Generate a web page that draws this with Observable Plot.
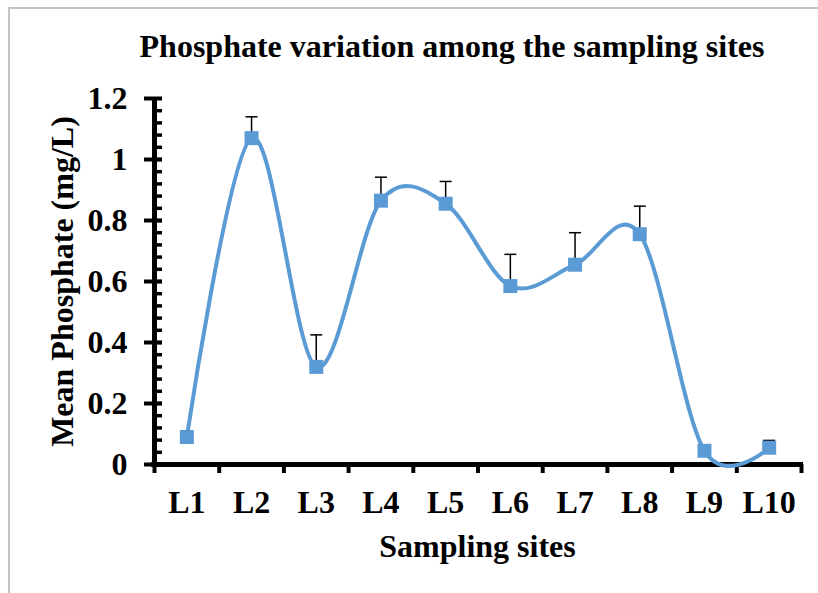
<!DOCTYPE html>
<html>
<head>
<meta charset="utf-8">
<script src="https://cdn.jsdelivr.net/npm/d3@7"></script>
<script src="https://cdn.jsdelivr.net/npm/@observablehq/plot@0.6"></script>
<style>
  html, body { margin: 0; padding: 0; background: #fff; }
  #wrap { position: relative; width: 818px; height: 593px; overflow: hidden; background: #fff; }
  #border { position: absolute; left: 8px; top: 7px; width: 1000px; height: 1000px;
            border-top: 2px solid #c4c4c4; border-left: 2px solid #c4c4c4; pointer-events: none; }
  #titlebox { position: relative; height: 80px; }
  #title { position: absolute; left: 0; top: 30px; width: 904px; text-align: center;
           font-family: "Liberation Serif", "Times New Roman", serif; font-weight: bold;
           font-size: 32px; line-height: 32px; color: #000; white-space: nowrap; }
  #chart svg { display: block; }
</style>
</head>
<body>
<div id="wrap">
  <div id="titlebox"><div id="title">Phosphate variation among the sampling sites</div></div>
  <div id="chart"></div>
  <div id="border"></div>
</div>
<script>
// ---- data ----
const sites = ["L1", "L2", "L3", "L4", "L5", "L6", "L7", "L8", "L9", "L10"];
const means = [0.09, 1.07, 0.32, 0.865, 0.855, 0.585, 0.655, 0.755, 0.045, 0.055];
const errors = [0.02, 0.07, 0.105, 0.077, 0.073, 0.104, 0.105, 0.092, 0.01, 0.024];
const yTicks = [0, 0.2, 0.4, 0.6, 0.8, 1, 1.2];
const yTickLabels = ["0", "0.2", "0.4", "0.6", "0.8", "1", "1.2"];
const yAxisTitle = "Mean Phosphate (mg/L)";
const xAxisTitle = "Sampling sites";

const data = sites.map((s, k) => ({site: s, pos: k + 1, mean: means[k], err: errors[k]}));
const xCenters = data.map(d => d.pos);
const xBoundaries = [0, ...xCenters].map(p => p + 0.5);
const yMinor = d3.range(1, 30).map(k => k * 0.04);

const font = "'Liberation Serif', 'Times New Roman', serif";
const blue = "#5b9bd5";
const capSymbol = {
  draw(context, size) {
    const h = Math.sqrt(size / Math.PI);
    context.moveTo(-h, 0);
    context.lineTo(h, 0);
  }
};

const chart = Plot.plot({
  width: 818,
  height: 513,
  marginLeft: 154,
  marginRight: 17,
  marginTop: 18,
  marginBottom: 129,
  x: {domain: [0.5, 10.5], label: null},
  y: {domain: [0, 1.2], label: null},
  style: {fontFamily: font, fontSize: "32px", fontWeight: "bold", color: "black", background: "white", overflow: "visible"},
  marks: [
    // y axis: outer part of major ticks + labels
    Plot.axisY({ticks: yTicks, tickSize: 10, tickPadding: 17, strokeWidth: 4, label: null,
      tickFormat: d => yTickLabels[yTicks.indexOf(d)],
      fontSize: 32, fontWeight: "bold", fontFamily: font}),
    // inner minor ticks
    Plot.tickY(yMinor, {y: d => d, insetRight: 639, strokeWidth: 3.5, stroke: "black"}),
    // inner part of major ticks
    Plot.tickY(yTicks, {y: d => d, insetRight: 639, strokeWidth: 4, stroke: "black"}),
    // x axis boundary ticks
    Plot.axisX({ticks: xBoundaries, tickSize: 9, strokeWidth: 4, fill: "none", label: null}),
    // x axis labels
    Plot.axisX({ticks: xCenters, tickSize: 0, tickPadding: 26, label: null,
      tickFormat: d => sites[d - 1],
      fontSize: 32, fontWeight: "bold", fontFamily: font}),
    // axis lines
    Plot.ruleX([0.5], {strokeWidth: 5, stroke: "black", insetBottom: -2, insetTop: -1}),
    Plot.ruleY([0], {strokeWidth: 5, stroke: "black", insetLeft: -3, insetRight: -2}),
    // axis titles
    Plot.text([yAxisTitle], {text: d => d, frameAnchor: "left", rotate: -90, dx: -92,
      textAnchor: "middle", lineAnchor: "middle",
      fontSize: 32, fontWeight: "bold", fontFamily: font, fill: "black"}),
    Plot.text([xAxisTitle], {text: d => d, frameAnchor: "bottom", dy: 82, dx: -0.5,
      textAnchor: "middle", lineAnchor: "middle",
      fontSize: 32, fontWeight: "bold", fontFamily: font, fill: "black"}),
    // smoothed line
    Plot.line(data, {x: "pos", y: "mean", curve: "cardinal", stroke: blue, strokeWidth: 4}),
    // error bars (upper only)
    Plot.ruleX(data, {x: "pos", y1: "mean", y2: d => d.mean + d.err, stroke: "black", strokeWidth: 1.5}),
    Plot.dot(data, {x: "pos", y: d => d.mean + d.err, symbol: capSymbol, r: 6, fill: "none", stroke: "black", strokeWidth: 1.5}),
    // markers
    Plot.dot(data, {x: "pos", y: "mean", symbol: "square", r: 7.9, fill: blue, stroke: "none"})
  ]
});
document.getElementById("chart").appendChild(chart);
</script>
</body>
</html>
